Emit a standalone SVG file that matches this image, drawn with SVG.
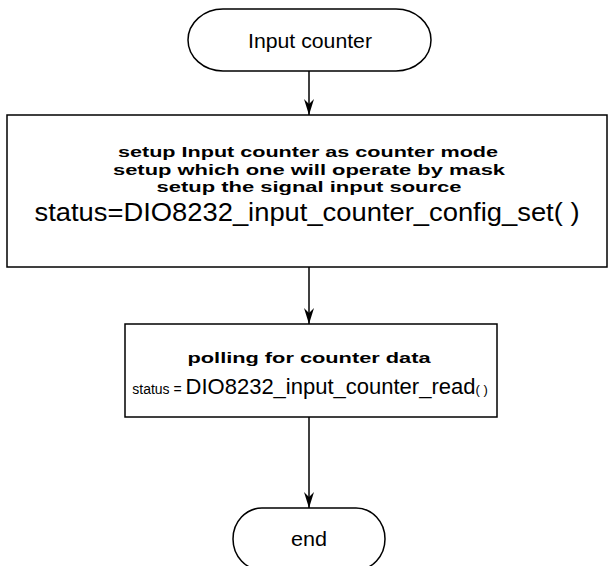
<svg xmlns="http://www.w3.org/2000/svg" width="608" height="566" viewBox="0 0 608 566">
<defs>
<marker id="ah" markerWidth="16" markerHeight="10" refX="16" refY="5" orient="auto" markerUnits="userSpaceOnUse" viewBox="0 0 16 10">
<path d="M0,0 L16,5 L0,10 L5,5 Z" fill="#000"/>
</marker>
</defs>
<style>
.shape{fill:#fff;stroke:#000;stroke-width:1.5}
.conn{stroke:#000;stroke-width:1.5;fill:none}
text{font-family:"Liberation Sans",Arial,sans-serif;fill:#000;text-anchor:middle}
.b{font-weight:bold;font-size:15px}
.big{font-size:22px}
</style>
<rect width="608" height="566" fill="#fff"/>
<g id="connectors">
<line class="conn" x1="309" y1="71" x2="309" y2="115" marker-end="url(#ah)"/>
<line class="conn" x1="309" y1="267" x2="309" y2="324" marker-end="url(#ah)"/>
<line class="conn" x1="309" y1="417" x2="309" y2="508" marker-end="url(#ah)"/>
</g>
<g id="start">
<path class="shape" d="M223,9 H396 A35,31 0 0 1 396,71 H223 A35,31 0 0 1 223,9 Z"/>
<text x="310" y="48" style="font-size:20px" textLength="124" lengthAdjust="spacingAndGlyphs">Input counter</text>
</g>
<g id="config">
<rect class="shape" x="7" y="115" width="600" height="152"/>
<text class="b" x="308" y="157" textLength="380" lengthAdjust="spacingAndGlyphs">setup Input counter as counter mode</text>
<text class="b" x="309" y="174.5" textLength="392" lengthAdjust="spacingAndGlyphs">setup which one will operate by mask</text>
<text class="b" x="309" y="192" textLength="305" lengthAdjust="spacingAndGlyphs">setup the signal input source</text>
<text x="307" y="221" style="font-size:25px" textLength="545" lengthAdjust="spacingAndGlyphs">status=DIO8232_input_counter_config_set( )</text>
</g>
<g id="read">
<rect class="shape" x="125" y="324" width="372" height="93"/>
<text class="b" x="309" y="363" textLength="243" lengthAdjust="spacingAndGlyphs">polling for counter data</text>
<text x="310" y="394"><tspan style="font-size:14px">status = </tspan><tspan class="big">DIO8232_input_counter_read</tspan><tspan style="font-size:13px">( )</tspan></text>
</g>
<g id="end">
<path class="shape" d="M262,508 H356 A29,31 0 0 1 356,570 H262 A29,31 0 0 1 262,508 Z"/>
<text x="309" y="546" style="font-size:20px" textLength="36" lengthAdjust="spacingAndGlyphs">end</text>
</g>
</svg>
